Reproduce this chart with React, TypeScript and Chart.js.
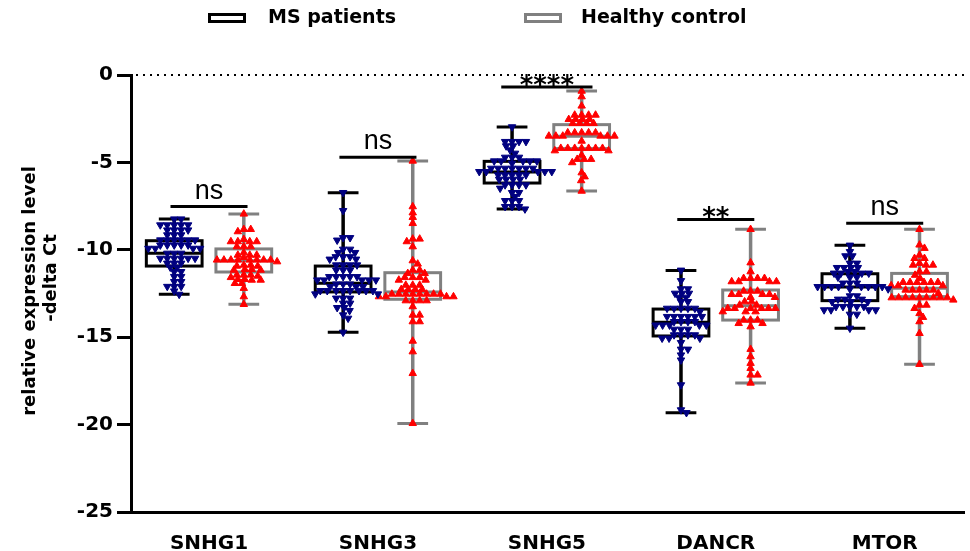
import React, { useEffect, useRef } from 'react';
import { Chart, registerables } from 'chart.js';

Chart.register(...registerables);

// ---------------- data ----------------
const categories = ['SNHG1', 'SNHG3', 'SNHG5', 'DANCR', 'MTOR'];
const seriesNames = ['MS patients', 'Healthy control'];
const yTickValues = [0, -5, -10, -15, -20, -25];

// individual values, MS patients
const msSNHG1 = [-8.24, -8.24, -8.58, -8.58, -8.58, -8.58, -8.58, -8.87, -8.87, -8.87, -8.87, -9.15, -9.15, -9.15,
  -9.44, -9.44, -9.44, -9.44, -9.44, -9.44, -9.73, -9.73, -9.73, -9.73, -9.73, -9.92, -9.92, -9.92, -9.92,
  -10.2, -10.2, -10.2, -10.49, -10.49, -10.49, -10.49, -10.49, -10.49, -10.77, -10.77, -10.77, -11.0, -11.0,
  -11.25, -11.25, -11.53, -11.53, -11.82, -11.82, -12.1, -12.1, -12.1, -12.36, -12.55];
const msSNHG3 = [-6.73, -7.76, -9.31, -9.31, -9.45, -9.97, -9.97, -10.16, -10.16, -10.4, -10.4, -10.4, -10.54, -10.54,
  -10.87, -10.87, -10.87, -10.87, -11.16, -11.16, -11.16, -11.54, -11.54, -11.54, -11.54, -11.54,
  -11.73, -11.73, -11.73, -11.73, -11.73, -11.96, -11.96, -11.96, -12.11, -12.11, -12.11,
  -12.34, -12.34, -12.34, -12.34, -12.34, -12.34, -12.34, -12.34, -12.53, -12.53, -12.77, -12.77, -12.77,
  -13.06, -13.06, -13.31, -13.31, -13.48, -13.73, -13.92, -14.72];
const msSNHG5 = [-2.97, -3.81, -3.81, -3.81, -3.81, -4.06, -4.06, -4.29, -4.48, -4.71, -4.71, -4.71,
  -4.92, -4.92, -4.92, -4.92, -4.92, -5.05, -5.34, -5.34, -5.34, -5.34, -5.34, -5.34, -5.34,
  -5.53, -5.53, -5.53, -5.53, -5.53, -5.72, -5.72, -5.72, -5.72, -5.72, -5.97, -5.97, -5.97, -5.97,
  -6.29, -6.29, -6.29, -6.29, -6.48, -6.73, -6.73, -6.96, -7.19, -7.19, -7.19, -7.53, -7.53, -7.53, -7.67];
const msDANCR = [-11.17, -11.77, -12.24, -12.24, -12.49, -12.49, -12.49, -12.72, -12.72, -12.97, -12.97,
  -13.35, -13.35, -13.35, -13.35, -13.35, -13.54, -13.82, -13.82, -13.82, -13.82, -13.82, -13.82,
  -14.11, -14.11, -14.11, -14.11, -14.31, -14.31, -14.31, -14.31, -14.31, -14.55, -14.55, -14.55,
  -14.87, -14.87, -14.87, -14.87, -15.06, -15.06, -15.06, -15.31, -15.69, -15.69, -16.02, -16.31,
  -17.73, -19.16, -19.32];
const msMTOR = [-9.74, -10.11, -10.35, -10.35, -10.77, -10.77, -11.02, -11.02, -11.02, -11.02, -11.25, -11.25,
  -11.34, -11.34, -11.34, -11.34, -11.57, -11.57, -11.57, -11.91, -11.91, -11.91,
  -12.11, -12.11, -12.11, -12.11, -12.11, -12.11, -12.11, -12.11, -12.24, -12.24, -12.64, -12.64,
  -12.83, -12.83, -12.83, -12.97, -12.97, -12.97, -13.25, -13.25, -13.25, -13.25, -13.25,
  -13.44, -13.44, -13.44, -13.44, -13.69, -13.69, -14.49];

// individual values, Healthy control
const hcSNHG1 = [-7.95, -8.83, -8.83, -8.96, -9.4, -9.53, -9.53, -9.53, -9.53, -9.82, -9.82, -9.82, -10.16,
  -10.3, -10.3, -10.3, -10.43, -10.58, -10.58, -10.58, -10.58, -10.58, -10.58, -10.58, -10.58, -10.68,
  -10.87, -10.87, -10.93, -10.93, -11.12, -11.12, -11.16, -11.16, -11.44, -11.44, -11.44, -11.5, -11.58,
  -11.69, -11.69, -11.73, -11.73, -11.92, -11.92, -12.2, -12.68, -13.12];
const hcSNHG3 = [-4.92, -7.53, -7.88, -8.14, -8.49, -9.38, -9.38, -9.53, -9.82, -10.62, -10.81, -11.16, -11.16,
  -11.35, -11.35, -11.58, -11.58, -11.58, -11.73, -11.73, -12.02, -12.02, -12.02, -12.26, -12.26, -12.26, -12.26,
  -12.53, -12.53, -12.53, -12.53, -12.53, -12.53, -12.53, -12.53, -12.68, -12.68, -12.68, -12.68,
  -12.91, -12.91, -12.91, -12.91, -13.25, -13.73, -13.73, -14.11, -14.11, -15.22, -15.83, -17.07, -19.93];
const hcSNHG5 = [-0.92, -1.24, -1.77, -2.29, -2.29, -2.29, -2.29, -2.54, -2.54, -2.54, -2.54, -2.77, -2.77, -2.77, -2.77,
  -3.3, -3.3, -3.3, -3.3, -3.3, -3.49, -3.49, -3.49, -3.49, -3.49, -3.49, -3.78,
  -4.19, -4.19, -4.19, -4.19, -4.19, -4.19, -4.19, -4.33, -4.33, -4.58, -4.82, -4.82, -4.82,
  -5.01, -5.59, -5.82, -6.04, -6.64];
const hcDANCR = [-8.83, -10.74, -11.25, -11.63, -11.63, -11.63, -11.63, -11.82, -11.82, -11.82, -11.82,
  -12.36, -12.36, -12.36, -12.55, -12.55, -12.55, -12.55, -12.72, -12.72, -12.97, -12.97, -13.16, -13.16,
  -13.35, -13.35, -13.35, -13.35, -13.35, -13.35, -13.54, -13.54, -13.54, -14.02, -14.02, -14.02,
  -14.21, -14.21, -14.4, -15.69, -16.11, -16.49, -16.78, -17.16, -17.16, -17.62];
const hcMTOR = [-8.83, -9.72, -9.91, -10.3, -10.49, -10.49, -10.77, -10.87, -10.87, -10.87, -11.25, -11.25,
  -11.45, -11.63, -11.86, -11.86, -11.86, -11.86, -11.86, -11.86, -12.05, -12.05, -12.05,
  -12.3, -12.3, -12.3, -12.3, -12.3, -12.49, -12.74, -12.74, -12.74, -12.74, -12.74, -12.74, -12.74, -12.74, -12.74,
  -12.87, -13.16, -13.16, -13.35, -13.64, -13.86, -14.11, -14.78, -16.55];

const msPoints = [msSNHG1, msSNHG3, msSNHG5, msDANCR, msMTOR];
const hcPoints = [hcSNHG1, hcSNHG3, hcSNHG5, hcDANCR, hcMTOR];

// box statistics (min, Q1, median, Q3, max)
const msMin = [-12.55, -14.72, -7.67, -19.32, -14.49];
const msQ1 = [-10.93, -12.41, -6.18, -14.93, -12.91];
const msMedian = [-10.2, -11.92, -5.55, -14.15, -12.13];
const msQ3 = [-9.48, -10.93, -4.94, -13.39, -11.37];
const msMax = [-8.24, -6.73, -2.97, -11.18, -9.74];

const hcMin = [-13.12, -19.93, -6.64, -17.62, -16.55];
const hcQ1 = [-11.27, -12.83, -4.21, -14.02, -12.68];
const hcMedian = [-10.62, -12.41, -3.51, -13.2, -12.2];
const hcQ3 = [-9.95, -11.31, -2.84, -12.3, -11.35];
const hcMax = [-7.95, -4.92, -0.92, -8.83, -8.83];

// significance annotations
const sigLabels = ['ns', 'ns', '****', '**', 'ns'];
const sigLevels = [-7.53, -4.71, -0.69, -8.26, -8.48];

// ---------------- layout helpers ----------------
const GROUP_OFFSET = 0.206;
const BOX_HALF = 0.165;
const CAP_HALF = 0.091;
const PX_PER_X = 170;
const PX_PER_Y = 17.48;
const DIST_X = 7;
const DIST_Y = 4.4;

function swarmOffsets(values: number[]): number[] {
  const placed: { x: number; y: number }[] = [];
  const out: number[] = [];
  for (const v of values) {
    const py = v * PX_PER_Y;
    let best = 0;
    for (let k = 0; k < 400; k++) {
      const cand = k === 0 ? 0 : (k % 2 ? 1 : -1) * Math.ceil(k / 2) * 0.5;
      let ok = true;
      for (const p of placed) {
        const dx = (p.x - cand) / DIST_X;
        const dy = (p.y - py) / DIST_Y;
        if (dx * dx + dy * dy < 1) { ok = false; break; }
      }
      if (ok) { best = cand; break; }
    }
    placed.push({ x: best, y: py });
    out.push(best / PX_PER_X);
  }
  return out;
}

function buildPoints(groups: number[][], sign: number) {
  const pts: { x: number; y: number }[] = [];
  groups.forEach((vals, gi) => {
    const offs = swarmOffsets(vals);
    vals.forEach((v, i) => pts.push({ x: gi + sign * GROUP_OFFSET + offs[i], y: v }));
  });
  return pts;
}

const FONT = 'DejaVu Sans';

const boxPlugin = {
  id: 'boxes',
  beforeDatasetsDraw(chart: any) {
    const { ctx, chartArea, scales } = chart;
    const xs = scales.x;
    const ys = scales.y;
    ctx.save();
    // dotted zero line
    ctx.strokeStyle = '#000';
    ctx.lineWidth = 2;
    ctx.setLineDash([2, 5]);
    const y0 = Math.round(ys.getPixelForValue(0));
    ctx.beginPath();
    ctx.moveTo(chartArea.left + 5, y0);
    ctx.lineTo(chartArea.right, y0);
    ctx.stroke();
    ctx.setLineDash([]);

    const series = [
      { color: '#000000', sign: -1, mn: msMin, q1: msQ1, md: msMedian, q3: msQ3, mx: msMax },
      { color: '#808080', sign: 1, mn: hcMin, q1: hcQ1, md: hcMedian, q3: hcQ3, mx: hcMax },
    ];
    series.forEach((s) => {
      categories.forEach((_, gi) => {
        const c = gi + s.sign * GROUP_OFFSET;
        const xc = xs.getPixelForValue(c);
        const xl = xs.getPixelForValue(c - BOX_HALF);
        const xr = xs.getPixelForValue(c + BOX_HALF);
        const cl = xs.getPixelForValue(c - CAP_HALF);
        const cr = xs.getPixelForValue(c + CAP_HALF);
        const pMin = ys.getPixelForValue(s.mn[gi]);
        const pQ1 = ys.getPixelForValue(s.q1[gi]);
        const pMd = ys.getPixelForValue(s.md[gi]);
        const pQ3 = ys.getPixelForValue(s.q3[gi]);
        const pMax = ys.getPixelForValue(s.mx[gi]);
        ctx.strokeStyle = s.color;
        // whiskers
        ctx.lineWidth = 3.5;
        ctx.beginPath();
        ctx.moveTo(xc, pMax); ctx.lineTo(xc, pQ3);
        ctx.moveTo(xc, pQ1); ctx.lineTo(xc, pMin);
        ctx.stroke();
        ctx.lineWidth = 3;
        ctx.beginPath();
        ctx.moveTo(cl, pMax); ctx.lineTo(cr, pMax);
        ctx.moveTo(cl, pMin); ctx.lineTo(cr, pMin);
        ctx.stroke();
        // box
        ctx.strokeRect(xl, pQ3, xr - xl, pQ1 - pQ3);
        ctx.beginPath();
        ctx.moveTo(xl, pMd); ctx.lineTo(xr, pMd);
        ctx.stroke();
      });
    });
    ctx.restore();
  },
  afterDraw(chart: any) {
    const { ctx, scales } = chart;
    const xs = scales.x;
    const ys = scales.y;
    ctx.save();
    // significance bars
    categories.forEach((_, gi) => {
      const half = gi === 2 ? 0.27 : 0.228;
      const yb = ys.getPixelForValue(sigLevels[gi]);
      const xl = xs.getPixelForValue(gi - half);
      const xr = xs.getPixelForValue(gi + half);
      ctx.strokeStyle = '#000';
      ctx.lineWidth = 3;
      ctx.beginPath();
      ctx.moveTo(xl, yb); ctx.lineTo(xr, yb);
      ctx.stroke();
      const lab = sigLabels[gi];
      ctx.fillStyle = '#000';
      ctx.textAlign = 'center';
      ctx.textBaseline = 'alphabetic';
      if (lab === 'ns') {
        ctx.font = `27px 'Liberation Sans', Arial, sans-serif`;
        ctx.fillText(lab, (xl + xr) / 2, yb - 8);
      } else {
        ctx.font = `bold 26px '${FONT}'`;
        ctx.fillText(lab, (xl + xr) / 2, yb + 7);
      }
    });

    // y-axis title
    ctx.fillStyle = '#000';
    ctx.font = `bold 18px '${FONT}'`;
    ctx.textAlign = 'center';
    ctx.textBaseline = 'middle';
    ctx.save();
    ctx.translate(30.5, 291);
    ctx.rotate(-Math.PI / 2);
    ctx.fillText('relative expression level', 0, 0);
    ctx.restore();
    ctx.save();
    ctx.translate(51.5, 278);
    ctx.rotate(-Math.PI / 2);
    ctx.fillText('-delta Ct', 0, 0);
    ctx.restore();

    // legend
    const legendItems = [
      { box: 209.5, text: 268, color: '#000000' },
      { box: 525.5, text: 581, color: '#808080' },
    ];
    ctx.font = `bold 19px '${FONT}'`;
    ctx.textAlign = 'left';
    ctx.textBaseline = 'middle';
    legendItems.forEach((it, i) => {
      ctx.strokeStyle = it.color;
      ctx.lineWidth = 3;
      ctx.strokeRect(it.box, 14.5, 35, 7);
      ctx.fillStyle = '#000';
      ctx.fillText(seriesNames[i], it.text, 18);
    });
    ctx.restore();
  },
};

export default function App() {
  const ref = useRef<HTMLCanvasElement | null>(null);
  useEffect(() => {
    if (!ref.current) return;
    const chart = new Chart(ref.current, {
      type: 'scatter',
      data: {
        datasets: [
          {
            label: seriesNames[0],
            data: buildPoints(msPoints, -1),
            pointStyle: 'triangle',
            rotation: 180,
            radius: 4.3,
            backgroundColor: '#000080',
            borderColor: '#000080',
            borderWidth: 1,
          },
          {
            label: seriesNames[1],
            data: buildPoints(hcPoints, 1),
            pointStyle: 'triangle',
            rotation: 0,
            radius: 4.3,
            backgroundColor: '#ff0000',
            borderColor: '#ff0000',
            borderWidth: 1,
          },
        ],
      },
      options: {
        responsive: false,
        animation: false,
        devicePixelRatio: 1,
        layout: { padding: { top: 75, left: 0, right: 0, bottom: 0 } },
        plugins: { legend: { display: false }, tooltip: { enabled: false }, title: { display: false } },
        scales: {
          x: {
            type: 'linear',
            min: -0.4618,
            max: 4.4735,
            afterBuildTicks: (s: any) => { s.ticks = categories.map((_, i) => ({ value: i })); },
            afterFit: (s: any) => { s.height = 39; },
            grid: { display: false, drawTicks: false },
            border: { display: true, color: '#000', width: 3 },
            ticks: {
              padding: 20,
              color: '#000',
              maxRotation: 0,
              autoSkip: false,
              font: { family: FONT, size: 20, weight: 'bold' },
              callback: (v: any) => categories[Math.round(Number(v))] ?? '',
            },
          },
          y: {
            type: 'linear',
            min: -25,
            max: 0,
            afterBuildTicks: (s: any) => { s.ticks = yTickValues.map((v) => ({ value: v })); },
            afterFit: (s: any) => { s.width = 131; },
            grid: { display: true, drawOnChartArea: false, drawTicks: true, tickLength: 14, lineWidth: 3, color: '#000' },
            border: { display: true, color: '#000', width: 3 },
            ticks: {
              padding: 4,
              color: '#000',
              font: { family: FONT, size: 20, weight: 'bold' },
            },
          },
        },
      },
      plugins: [boxPlugin],
    } as any);
    return () => chart.destroy();
  }, []);
  return (
    <div style={{ position: 'fixed', left: 0, top: 0, width: 970, height: 551, background: '#fff' }}>
      <canvas ref={ref} width={970} height={551} style={{ display: 'block', width: 970, height: 551 }} />
    </div>
  );
}
